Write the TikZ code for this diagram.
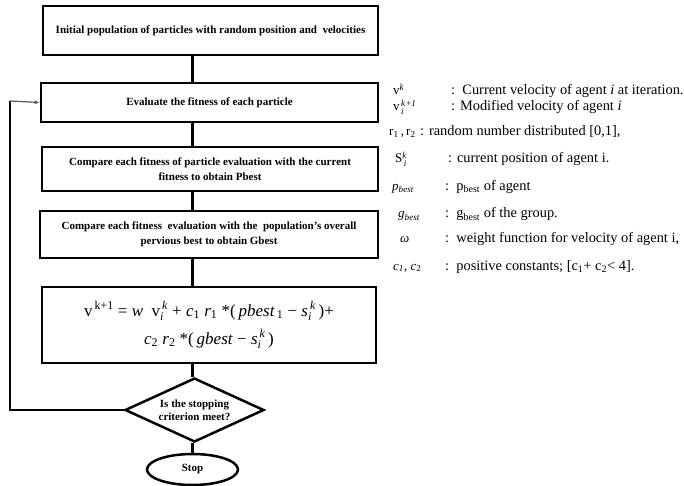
\documentclass[tikz,border=0pt]{standalone}
\usepackage{amsmath}
\usepackage{fontspec}
\setmainfont{Liberation Serif}
\usetikzlibrary{shapes.geometric,arrows.meta}

\begin{document}
\begin{tikzpicture}[x=1pt,y=-1pt,
    stepbox/.style={draw, line width=2.5pt, align=center, inner sep=2pt,
        font=\bfseries\fontsize{11}{15}\selectfont},
    decision/.style={diamond, draw, line width=2.5pt, aspect=2.2, inner sep=0pt,
        minimum width=139, minimum height=64, align=center,
        font=\bfseries\fontsize{11}{13}\selectfont},
    terminal/.style={ellipse, draw, line width=2.5pt, inner sep=0pt,
        minimum width=91, minimum height=31, font=\bfseries\fontsize{11}{12}\selectfont},
    link/.style={line width=2.5pt},
    back/.style={gray!70!black, line width=1.2pt, -{Latex[length=5pt,width=4pt]}},
    legend/.style={anchor=base west, inner sep=0pt, font=\fontsize{14.4}{16}\selectfont},
    symbol/.style={legend, font=\fontsize{13}{15}\selectfont}]
    \useasboundingbox (0,0) rectangle (684,486);

    % Flow chart boxes
    \node[stepbox, minimum width=335, minimum height=49] (init) at (210.5,30.5)
        {Initial population of particles with random position and\ \ velocities};
    \node[stepbox, minimum width=337, minimum height=39] (eval) at (209.5,102.5)
        {Evaluate the fitness of each particle};
    \node[stepbox, minimum width=336, minimum height=44] (pbest) at (210,169)
        {Compare each fitness of particle evaluation with the current\\ fitness to obtain Pbest};
    \node[stepbox, minimum width=338, minimum height=47] (gbest) at (209,234.5)
        {Compare each fitness\ \ evaluation with the\ \ population's overall\\ pervious best to obtain Gbest};
    \node[stepbox, minimum width=334, minimum height=76, font=\fontsize{17}{28}\selectfont] (update) at (209,325)
        {v$^{\,\text{k+1}}$ = \textit{w}\ \ v$_{\textit{i}}^{\,\textit{k}}$ + \textit{c}$_{\text{1}}$ \textit{r}$_{\text{1}}$ *(\,\textit{pbest}$_{\,\text{1}}$ − \textit{s}$_{\textit{i}}^{\,\textit{k}}$\,)+\\
         \textit{c}$_{\text{2}}$ \textit{r}$_{\text{2}}$ *(\,\textit{gbest} − \textit{s}$_{\textit{i}}^{\,\textit{k}}$\,)};
    \node[decision] (crit) at (194.5,410) {Is the stopping\\ criterion meet?};
    \node[terminal] (stop) at (192.5,469.5) {Stop};

    % Connectors
    \draw[link] (init.south -| stop) -- (eval.north -| stop);
    \draw[link] (eval.south -| stop) -- (pbest.north -| stop);
    \draw[link] (pbest.south -| stop) -- (gbest.north -| stop);
    \draw[link] (gbest.south -| stop) -- (update.north -| stop);
    \draw[link] (update.south -| stop) -- (crit.north -| stop);
    \draw[link] (crit.south -| stop) -- (stop.north);

    % Loop back
    \coordinate (corner) at (10,101);
    \draw[link] (crit.west) -| (corner);
    \draw[back] (corner) -- (eval.west);

    % Legend
    \node[symbol] (s1) at (393,95) {v$^{\textit{k}}$};
    \node[legend] (d1) at (451,95) {:\ \ Current velocity of agent \textit{i} at iteration.};
    \node[symbol] (s2) at (393,111) {v$_{\,\textit{i}}^{\,\textit{k+1}}$};
    \node[legend] (d2) at (451,111) {: Modified velocity of agent \textit{i}};
    \node[symbol] (s3) at (389,136) {r$_{\text{1}}$\,,\,r$_{\text{2}}$};
    \node[legend] (d3) at (420,136) {: random number distributed [0,1],};
    \node[symbol] (s4) at (395,163) {S$^{\textit{k}}_{\,\textit{i}}$};
    \node[legend] (d4) at (448,163) {: current position of agent i.};
    \node[symbol] (s5) at (392,190) {\textit{p}$_{\textit{best}}$};
    \node[legend] (d5) at (445,190) {:\ \ p$_{\text{best}}$ of agent};
    \node[symbol] (s6) at (398,218) {\textit{g}$_{\textit{best}}$};
    \node[legend] (d6) at (445,218) {:\ \ g$_{\text{best}}$ of the group.};
    \node[symbol] (s7) at (400,242) {\textit{ω}};
    \node[legend] (d7) at (445,242) {:\ \ weight function for velocity of agent i,};
    \node[symbol] (s8) at (393,270) {\textit{c$_{\text{1}}$}, \textit{c}$_{\text{2}}$};
    \node[legend] (d8) at (445,270) {:\ \ positive constants; [c$_{\text{1}}$+ c$_{\text{2}}$< 4].};
\end{tikzpicture}
\end{document}
